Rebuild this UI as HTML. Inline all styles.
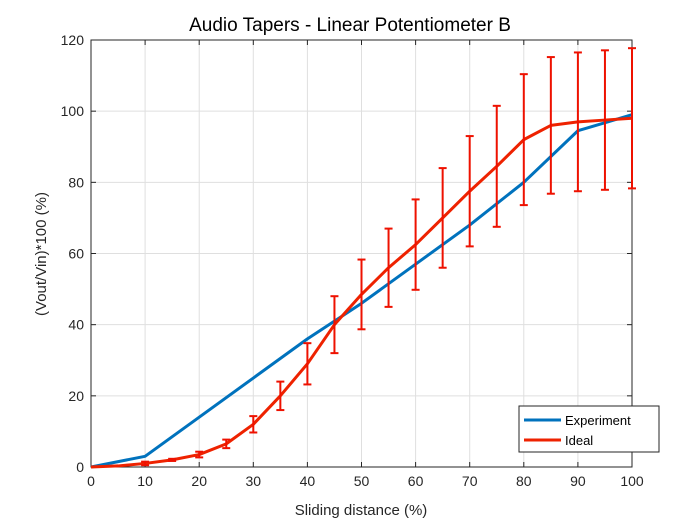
<!DOCTYPE html>
<html><head><meta charset="utf-8"><style>
html,body{margin:0;padding:0;background:#fff;}
svg{display:block;font-family:"Liberation Sans",sans-serif;}
</style></head><body>
<svg id="chart" width="700" height="525">
<rect width="700" height="525" fill="#fff"/>
<g id="grid"></g><g id="axes"></g><g id="marks"></g>
<text x="350" y="31" text-anchor="middle" font-size="19" fill="#000">Audio Tapers - Linear Potentiometer B</text>
<text x="361" y="515" text-anchor="middle" font-size="15" fill="#262626">Sliding distance (%)</text>
<text transform="translate(46,254) rotate(-90)" text-anchor="middle" font-size="15" fill="#262626">(Vout/Vin)*100 (%)</text>
<g>
<rect x="519" y="406" width="140" height="46" fill="#fff" stroke="#262626" stroke-width="1"/>
<line x1="524" y1="420" x2="561" y2="420" stroke="#0072BD" stroke-width="3"/>
<text x="565" y="425" font-size="13" fill="#000">Experiment</text>
<line x1="524" y1="440" x2="561" y2="440" stroke="#EE2200" stroke-width="3"/>
<text x="565" y="445" font-size="13" fill="#000">Ideal</text>
</g>
</svg>
<script>
const xTicks=[0,10,20,30,40,50,60,70,80,90,100];
const yTicks=[0,20,40,60,80,100,120];
const expX=[0,10,20,30,40,50,60,70,80,90,100];
const expY=[0,3,14,25,36,46,57,68,80,94.5,99];
const idealX=[0,5,10,15,20,25,30,35,40,45,50,55,60,65,70,75,80,85,90,95,100];
const idealY=[0,0.3,1,2,3.5,6.5,12,20,29,40,48.5,56,62.5,70,77.5,84.5,92,96,97,97.5,98];
const idealErr=[0,0,0.5,0.3,0.8,1.2,2.3,4,5.8,8,9.8,11,12.7,14,15.5,17,18.4,19.2,19.5,19.6,19.7];
const X0=91,X1=632,Y0=467,Y1=40;
const sx=v=>X0+(v-0)/100*(X1-X0);
const sy=v=>Y0-(v/120)*(Y0-Y1);
const NS='http://www.w3.org/2000/svg';
function mk(tag,attrs,parent){const e=document.createElementNS(NS,tag);for(const k in attrs)e.setAttribute(k,attrs[k]);parent.appendChild(e);return e;}
const grid=document.getElementById('grid'),marks=document.getElementById('marks'),axes=document.getElementById('axes');
xTicks.forEach(t=>{
 const g=mk('line',{x1:sx(t),x2:sx(t),y1:Y0,y2:Y1,stroke:'#dfdfdf','stroke-width':1},grid);
 
 
 mk('line',{x1:sx(t),x2:sx(t),y1:Y0,y2:Y0-5,stroke:'#262626'},axes);
 mk('line',{x1:sx(t),x2:sx(t),y1:Y1,y2:Y1+5,stroke:'#262626'},axes);
 const l=mk('text',{x:sx(t),y:Y0+19,'text-anchor':'middle','font-size':14,fill:'#262626'},axes);
 l.textContent=t;
 
 
});
yTicks.forEach(t=>{
 const g=mk('line',{x1:X0,x2:X1,y1:sy(t),y2:sy(t),stroke:'#dfdfdf','stroke-width':1},grid);
 
 
 mk('line',{x1:X0,x2:X0+5,y1:sy(t),y2:sy(t),stroke:'#262626'},axes);
 mk('line',{x1:X1,x2:X1-5,y1:sy(t),y2:sy(t),stroke:'#262626'},axes);
 const l=mk('text',{x:X0-7,y:sy(t)+5,'text-anchor':'end','font-size':14,fill:'#262626'},axes);
 l.textContent=t;
 
 
});
const box=mk('rect',{x:X0,y:Y1,width:X1-X0,height:Y0-Y1,fill:'none',stroke:'#262626','stroke-width':1},axes);


const e=mk('polyline',{points:expX.map((x,i)=>sx(x)+','+sy(expY[i])).join(' '),fill:'none',stroke:'#0072BD','stroke-width':3,'stroke-linejoin':'round'},marks);


const id=mk('polyline',{points:idealX.map((x,i)=>sx(x)+','+sy(idealY[i])).join(' '),fill:'none',stroke:'#EE2200','stroke-width':3,'stroke-linejoin':'round'},marks);


idealX.forEach((x,i)=>{
 if(idealErr[i]<=0)return;
 const g=mk('g',{stroke:'#EE1100','stroke-width':2},marks);
 
 
 const cx=sx(x),t=sy(idealY[i]+idealErr[i]),b=sy(idealY[i]-idealErr[i]);
 mk('line',{x1:cx,x2:cx,y1:t,y2:b},g);
 mk('line',{x1:cx-4,x2:cx+4,y1:t,y2:t},g);
 mk('line',{x1:cx-4,x2:cx+4,y1:b,y2:b},g);
});
</script>
</body></html>
